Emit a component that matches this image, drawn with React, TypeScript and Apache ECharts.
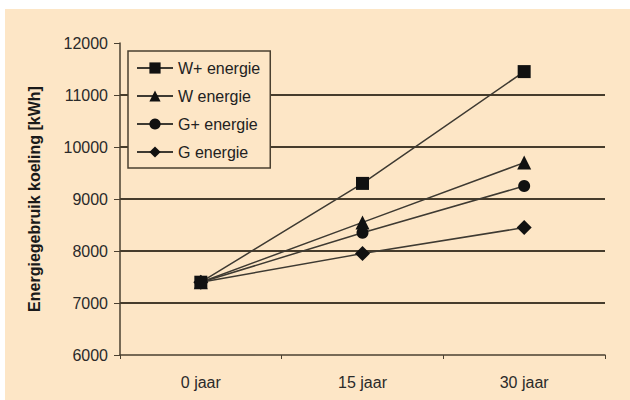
import React, { useEffect, useRef } from "react";
import * as echarts from "echarts";

const categories = ["0 jaar", "15 jaar", "30 jaar"];
const seriesNames = ["W+ energie", "W energie", "G+ energie", "G energie"];
const wPlus = [7400, 9300, 11450];
const w = [7400, 8550, 9700];
const gPlus = [7400, 8350, 9250];
const g = [7400, 7950, 8450];
const yTicks = { min: 6000, max: 12000, interval: 1000 };
const yTitle = "Energiegebruik koeling [kWh]";

const FONT = "Liberation Sans, Arial, sans-serif";

export default function App() {
  const ref = useRef<HTMLDivElement>(null);
  useEffect(() => {
    if (!ref.current) return;
    const chart = echarts.init(ref.current, undefined, { renderer: "svg" });
    const symbols = ["rect", "triangle", "circle", "diamond"];
    const sizes = [13, 14, 12, 15];
    const datas = [wPlus, w, gPlus, g];
    const order = [3, 2, 1, 0];
    chart.setOption({
      animation: false,
      backgroundColor: "transparent",
      textStyle: { fontFamily: FONT },
      grid: { left: 115, right: 25, top: 34, bottom: 45 },
      legend: {
        show: true,
        orient: "vertical",
        left: 123,
        top: 42,
        padding: [9, 10, 8, 8],
        itemGap: 12,
        itemWidth: 36,
        itemHeight: 14,
        backgroundColor: "#fde6c6",
        borderColor: "#4a4030",
        borderWidth: 1.5,
        textStyle: { fontSize: 16, color: "#222", fontFamily: FONT },
        data: seriesNames,
      },
      xAxis: {
        type: "category",
        data: categories,
        boundaryGap: true,
        axisLine: { lineStyle: { color: "#4a4030", width: 1.5 } },
        axisTick: { show: true, inside: false, length: 4, lineStyle: { color: "#4a4030" } },
        axisLabel: { color: "#2a2a2a", fontSize: 16, margin: 19, fontFamily: FONT },
        splitLine: { show: false },
      },
      yAxis: {
        type: "value",
        min: yTicks.min,
        max: yTicks.max,
        interval: yTicks.interval,
        name: yTitle,
        nameLocation: "middle",
        nameGap: 78,
        nameRotate: 90,
        nameTextStyle: { fontSize: 16, fontWeight: "bold", color: "#1a1a1a", fontFamily: FONT },
        axisLine: { show: true, lineStyle: { color: "#4a4030", width: 1.5 } },
        axisTick: { show: true, inside: false, length: 6, lineStyle: { color: "#4a4030" } },
        axisLabel: {
          color: "#2a2a2a",
          fontSize: 16,
          margin: 12,
          fontFamily: FONT,
          formatter: (v: number) => String(v),
        },
        splitLine: {
          show: true,
          showMaxLine: false,
          showMinLine: false,
          lineStyle: { color: "#463c2c", width: 2 },
        },
      },
      series: order.map((i) => ({
        name: seriesNames[i],
        type: "line",
        data: datas[i],
        symbol: symbols[i],
        symbolSize: sizes[i],
        showAllSymbol: true,
        lineStyle: { color: "#3e3a32", width: 1.5 },
        itemStyle: { color: "#111" },
        z: 10 - i,
      })),
    });
    return () => chart.dispose();
  }, []);
  return (
    <div
      style={{
        position: "absolute",
        left: 5,
        top: 9,
        width: 625,
        height: 391,
        background: "#fde6c6",
      }}
    >
      <div ref={ref} style={{ width: 625, height: 391 }} />
    </div>
  );
}
